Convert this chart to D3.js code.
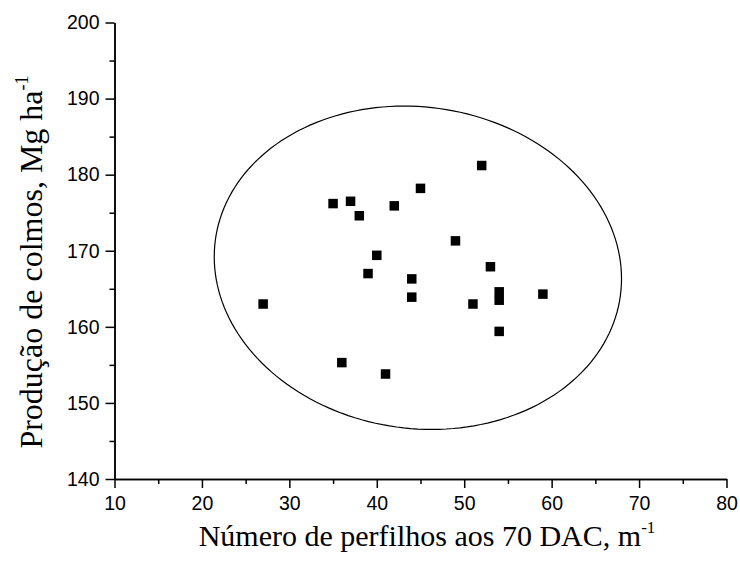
<!DOCTYPE html>
<html>
<head>
<meta charset="utf-8">
<script src="https://cdn.jsdelivr.net/npm/d3@7"></script>
<style>
    body { margin: 0; background: #fff; }
    .axis path, .axis line { stroke: #000; stroke-width: 1.5; }
    .axis text { font-family: "Liberation Sans", Arial, sans-serif; font-size: 19.5px; fill: #000; }
    .title { font-family: "Liberation Serif", "Times New Roman", serif; font-size: 30px; fill: #000; }
</style>
</head>
<body>
<div id="vis"></div>
<script>
    // perfilhos aos 70 DAC (m-1) x produção de colmos (Mg ha-1)
    var perfilhos = [27, 35, 37, 38, 42, 45, 52, 49, 40, 39, 53, 44, 44, 51, 54, 54, 59, 54, 41, 36];
    var producao = [163.0, 176.2, 176.5, 174.6, 175.9, 178.2, 181.2, 171.3, 169.4, 167.0,
                    167.9, 166.3, 163.9, 163.0, 164.6, 163.5, 164.3, 159.4, 153.8, 155.3];

    var xTicks = d3.range(10, 81, 10),
        xMinor = d3.range(15, 80, 10),
        yTicks = d3.range(140, 201, 10),
        yMinor = d3.range(145, 200, 10);

    var width = 740,
        height = 563;

    var x = d3.scaleLinear().domain([10, 80]).range([114.5, 726.5]);
    var y = d3.scaleLinear().domain([140, 200]).range([479, 22.5]);

    var svg = d3.select("#vis").append("svg")
        .attr("width", width)
        .attr("height", height);

    // 95% confidence ellipse (population), like Origin draws it
    var n = perfilhos.length,
        mx = d3.mean(perfilhos),
        my = d3.mean(producao),
        sxx = d3.sum(perfilhos, function(v) { return (v - mx) * (v - mx); }) / (n - 1),
        syy = d3.sum(producao, function(v) { return (v - my) * (v - my); }) / (n - 1),
        sxy = d3.sum(perfilhos, function(v, i) { return (v - mx) * (producao[i] - my); }) / (n - 1);

    var f = (n - 2) / 2 * (Math.pow(0.05, -2 / (n - 2)) - 1);
    var k = Math.sqrt(2 * (n - 1) * (n + 1) / (n * (n - 2)) * f);

    var l11 = Math.sqrt(sxx),
        l21 = sxy / l11,
        l22 = Math.sqrt(syy - l21 * l21);

    var ellipse = d3.range(0, 360, 2).map(function(deg) {
        var t = deg * Math.PI / 180,
            c = Math.cos(t),
            s = Math.sin(t);
        return [mx + k * l11 * c, my + k * (l21 * c + l22 * s)];
    });

    svg.append("path")
        .datum(ellipse)
        .attr("d", d3.line()
            .x(function(d) { return x(d[0]); })
            .y(function(d) { return y(d[1]); })
            .curve(d3.curveLinearClosed))
        .attr("fill", "none")
        .attr("stroke", "#000")
        .attr("stroke-width", 1.2);

    // minor ticks
    svg.append("g")
        .attr("class", "axis")
        .attr("transform", "translate(0," + y(140) + ")")
        .call(d3.axisBottom(x).tickValues(xMinor).tickSize(5).tickSizeOuter(0).tickFormat(""));

    svg.append("g")
        .attr("class", "axis")
        .attr("transform", "translate(" + x(10) + ",0)")
        .call(d3.axisLeft(y).tickValues(yMinor).tickSize(5).tickSizeOuter(0).tickFormat(""));

    svg.append("g")
        .attr("class", "axis")
        .attr("transform", "translate(0," + y(140) + ")")
        .call(d3.axisBottom(x).tickValues(xTicks).tickSize(9).tickSizeOuter(0).tickPadding(8));

    svg.append("g")
        .attr("class", "axis")
        .attr("transform", "translate(" + x(10) + ",0)")
        .call(d3.axisLeft(y).tickValues(yTicks).tickSize(9).tickSizeOuter(0).tickPadding(6));

    svg.append("g")
        .selectAll("rect")
        .data(perfilhos)
        .enter().append("rect")
        .attr("x", function(d) { return x(d) - 4.75; })
        .attr("y", function(d, i) { return y(producao[i]) - 4.75; })
        .attr("width", 9.5)
        .attr("height", 9.5)
        .attr("fill", "#000");

    var xTitle = svg.append("text")
        .attr("class", "title")
        .attr("x", 427)
        .attr("y", 546)
        .attr("text-anchor", "middle");
    xTitle.append("tspan").text("Número de perfilhos aos 70 DAC, m");
    xTitle.append("tspan").attr("dy", -13).style("font-size", "17px").text("-1");

    var yTitle = svg.append("text")
        .attr("class", "title")
        .style("font-size", "32px")
        .attr("transform", "translate(42,262) rotate(-90)")
        .attr("text-anchor", "middle");
    yTitle.append("tspan").text("Produção de colmos, Mg ha");
    yTitle.append("tspan").attr("dy", -14).style("font-size", "18px").text("-1");
</script>
</body>
</html>
